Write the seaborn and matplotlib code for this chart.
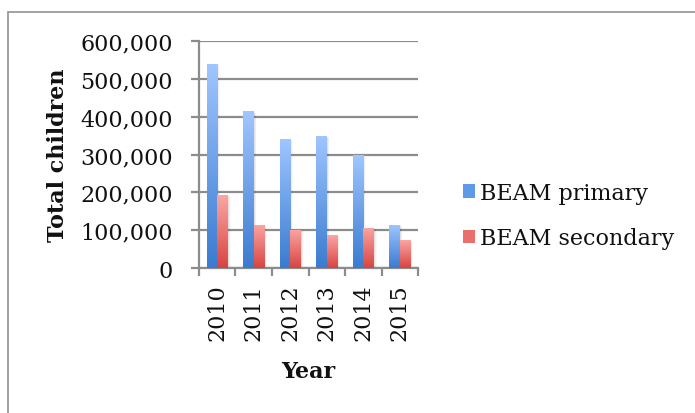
import numpy as np
import pandas as pd
import matplotlib
matplotlib.use("Agg")
import matplotlib.pyplot as plt
import seaborn as sns
from matplotlib.patches import Patch, Rectangle
from matplotlib.colors import LinearSegmentedColormap
from matplotlib.ticker import FuncFormatter, FixedLocator

# Data
years = ["2010", "2011", "2012", "2013", "2014", "2015"]
primary = [540000, 414000, 342000, 349000, 299000, 114000]
secondary = [192000, 114000, 101000, 87000, 107000, 73000]
series_names = ["BEAM primary", "BEAM secondary"]

df = pd.DataFrame({
    "Year": years * 2,
    "Total children": primary + secondary,
    "Series": [series_names[0]] * len(years) + [series_names[1]] * len(years),
})

sns.set_theme(style="white")
plt.rcParams["font.family"] = ["DejaVu Serif"]

W, H, DPI = 695, 414, 100
fig = plt.figure(figsize=(W / DPI, H / DPI), dpi=DPI)
ax = fig.add_axes([199 / W, 1 - 269 / H, (418 - 199) / W, (269 - 42) / H])

# gradient colours (top -> bottom) for each series
grads = {
    series_names[0]: ("#a0c6ff", "#3a7bd0"),
    series_names[1]: ("#fba6a3", "#d84440"),
}
solid = {series_names[0]: "#5f9ae6", series_names[1]: "#ea6f6b"}

sns.barplot(data=df, x="Year", y="Total children", hue="Series",
            palette=solid, width=0.58, gap=0, legend=False, ax=ax,
            saturation=1, zorder=3)

ax.set_ylim(0, 600000)
ax.set_xlim(-0.5, len(years) - 0.5)

# replace flat fills by vertical gradients and add a soft shadow
bars = [p for p in ax.patches if isinstance(p, Rectangle)]
for i, p in enumerate(bars):
    name = series_names[0] if i < len(years) else series_names[1]
    top_c, bot_c = grads[name]
    cmap = LinearSegmentedColormap.from_list(name, [bot_c, top_c])
    x0, w, h = p.get_x(), p.get_width(), p.get_height()
    # shadow
    for k, a in enumerate([0.06, 0.04, 0.025]):
        off = 0.025 * (k + 1)
        ax.add_patch(Rectangle((x0 + off, 0), w, h - 1500 * (k + 1),
                               facecolor="#000000", alpha=a, lw=0, zorder=2))
    grad = np.linspace(0, 1, 256).reshape(-1, 1)
    im = ax.imshow(grad, cmap=cmap, origin="lower", aspect="auto",
                   extent=(x0, x0 + w, 0, h), zorder=4, interpolation="bilinear")
    im.set_clip_path(p)
    p.set_facecolor("none")
    p.set_edgecolor("none")

ax.set_ylim(0, 600000)
ax.set_xlim(-0.5, len(years) - 0.5)

grid_c = "#8c8c8c"
ax.yaxis.grid(True, color=grid_c, lw=1.6, zorder=0)
ax.xaxis.grid(False)
ax.set_axisbelow(True)
for s in ["top", "right"]:
    ax.spines[s].set_visible(False)
for s in ["left", "bottom"]:
    ax.spines[s].set_color(grid_c)
    ax.spines[s].set_linewidth(1.6)

ax.yaxis.set_major_locator(FixedLocator(np.arange(0, 600001, 100000)))
ax.yaxis.set_major_formatter(FuncFormatter(lambda v, _: f"{v:,.0f}"))
ax.tick_params(axis="y", which="major", direction="out", length=6, width=1.6,
               color=grid_c, pad=13, labelsize=16, left=True, labelcolor="#111111")

# category boundary ticks below the x axis
ax.xaxis.set_minor_locator(FixedLocator(np.arange(-0.5, len(years), 1.0)))
ax.tick_params(axis="x", which="minor", direction="out", length=6, width=1.6,
               color=grid_c, bottom=True)
ax.tick_params(axis="x", which="major", length=0, pad=11, labelsize=16,
               labelrotation=90, labelcolor="#111111")

ax.set_xlabel("Year", fontsize=16, fontweight="bold", color="#111111")
ax.xaxis.set_label_coords(0.5, -0.405)
ax.set_ylabel("Total children", fontsize=16, fontweight="bold", color="#111111")
ax.yaxis.set_label_coords(-0.595, 0.5)

handles = [Patch(facecolor=solid[n], edgecolor="none", label=n) for n in series_names]
fig.legend(handles=handles, loc="center left",
           bbox_to_anchor=(463 / W, 1 - 216.5 / H), bbox_transform=fig.transFigure,
           frameon=False, fontsize=16, handlelength=0.55, handleheight=0.55,
           handletextpad=0.2, labelspacing=1.05, borderpad=0, borderaxespad=0,
           labelcolor="#111111")

# outer frame of the chart area
fig.add_artist(Rectangle((7.5 / W, -0.2), 1.5, 1.2 - 12.5 / H, transform=fig.transFigure,
                         fill=False, edgecolor="#9a9a9a", lw=1.3))

fig.savefig("out.png", dpi=DPI)
